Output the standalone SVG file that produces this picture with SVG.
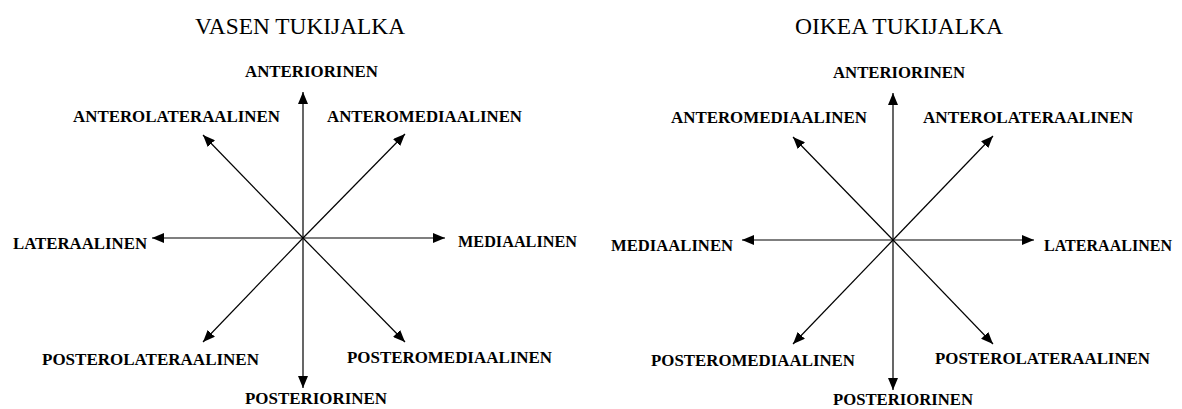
<svg xmlns="http://www.w3.org/2000/svg" width="1182" height="409" viewBox="0 0 1182 409">
<style>
.t{font-family:"Liberation Serif","Times New Roman",serif;font-size:24px;fill:#000}
.l{font-family:"Liberation Serif","Times New Roman",serif;font-size:17.5px;font-weight:bold;fill:#000}
.c{stroke:#000;stroke-width:1.2;fill:none;marker-end:url(#ah)}
</style>
<defs>
<marker id="ah" viewBox="0 0 12 10" refX="12" refY="5" markerWidth="12" markerHeight="10" markerUnits="userSpaceOnUse" orient="auto">
<path d="M0,0 L12,5 L0,10 z" fill="#000"/>
</marker>
</defs>
<rect width="1182" height="409" fill="#fff"/>
<g id="title-left"><text class="t" x="195" y="34" textLength="210" lengthAdjust="spacingAndGlyphs">VASEN TUKIJALKA</text></g>
<g id="title-right"><text class="t" x="795" y="34" textLength="208" lengthAdjust="spacingAndGlyphs">OIKEA TUKIJALKA</text></g>

<g id="connectors">
<g id="left-arrows">
<line class="c" x1="303" y1="238" x2="303" y2="92"/>
<line class="c" x1="303" y1="238" x2="303" y2="388"/>
<line class="c" x1="303" y1="238" x2="152" y2="238"/>
<line class="c" x1="303" y1="238" x2="445" y2="238"/>
<line class="c" x1="303" y1="238" x2="203" y2="135"/>
<line class="c" x1="303" y1="238" x2="405" y2="134"/>
<line class="c" x1="303" y1="238" x2="203" y2="342"/>
<line class="c" x1="303" y1="238" x2="405" y2="342"/>
</g>
<g id="right-arrows">
<line class="c" x1="893" y1="240" x2="893" y2="93"/>
<line class="c" x1="893" y1="240" x2="893" y2="390"/>
<line class="c" x1="893" y1="240" x2="742" y2="240"/>
<line class="c" x1="893" y1="240" x2="1034" y2="240"/>
<line class="c" x1="893" y1="240" x2="793" y2="137"/>
<line class="c" x1="893" y1="240" x2="993" y2="136"/>
<line class="c" x1="893" y1="240" x2="793" y2="344"/>
<line class="c" x1="893" y1="240" x2="993" y2="344"/>
</g>
</g>

<g id="l-anteriorinen"><text class="l" x="245" y="77" textLength="133" lengthAdjust="spacingAndGlyphs">ANTERIORINEN</text></g>
<g id="l-anterolateraalinen"><text class="l" x="73" y="122" textLength="207" lengthAdjust="spacingAndGlyphs">ANTEROLATERAALINEN</text></g>
<g id="l-anteromediaalinen"><text class="l" x="327" y="122" textLength="195" lengthAdjust="spacingAndGlyphs">ANTEROMEDIAALINEN</text></g>
<g id="l-lateraalinen"><text class="l" x="13" y="249" textLength="134" lengthAdjust="spacingAndGlyphs">LATERAALINEN</text></g>
<g id="l-mediaalinen"><text class="l" x="458" y="247" textLength="119" lengthAdjust="spacingAndGlyphs">MEDIAALINEN</text></g>
<g id="l-posterolateraalinen"><text class="l" x="42" y="365" textLength="217" lengthAdjust="spacingAndGlyphs">POSTEROLATERAALINEN</text></g>
<g id="l-posteromediaalinen"><text class="l" x="347" y="363" textLength="205" lengthAdjust="spacingAndGlyphs">POSTEROMEDIAALINEN</text></g>
<g id="l-posteriorinen"><text class="l" x="245" y="404" textLength="142" lengthAdjust="spacingAndGlyphs">POSTERIORINEN</text></g>

<g id="r-anteriorinen"><text class="l" x="833" y="78" textLength="132" lengthAdjust="spacingAndGlyphs">ANTERIORINEN</text></g>
<g id="r-anteromediaalinen"><text class="l" x="671" y="123" textLength="196" lengthAdjust="spacingAndGlyphs">ANTEROMEDIAALINEN</text></g>
<g id="r-anterolateraalinen"><text class="l" x="923" y="123" textLength="210" lengthAdjust="spacingAndGlyphs">ANTEROLATERAALINEN</text></g>
<g id="r-mediaalinen"><text class="l" x="611" y="251" textLength="122" lengthAdjust="spacingAndGlyphs">MEDIAALINEN</text></g>
<g id="r-lateraalinen"><text class="l" x="1044" y="251" textLength="128" lengthAdjust="spacingAndGlyphs">LATERAALINEN</text></g>
<g id="r-posteromediaalinen"><text class="l" x="651" y="366" textLength="204" lengthAdjust="spacingAndGlyphs">POSTEROMEDIAALINEN</text></g>
<g id="r-posterolateraalinen"><text class="l" x="935" y="364" textLength="215" lengthAdjust="spacingAndGlyphs">POSTEROLATERAALINEN</text></g>
<g id="r-posteriorinen"><text class="l" x="833" y="405" textLength="140" lengthAdjust="spacingAndGlyphs">POSTERIORINEN</text></g>
</svg>
